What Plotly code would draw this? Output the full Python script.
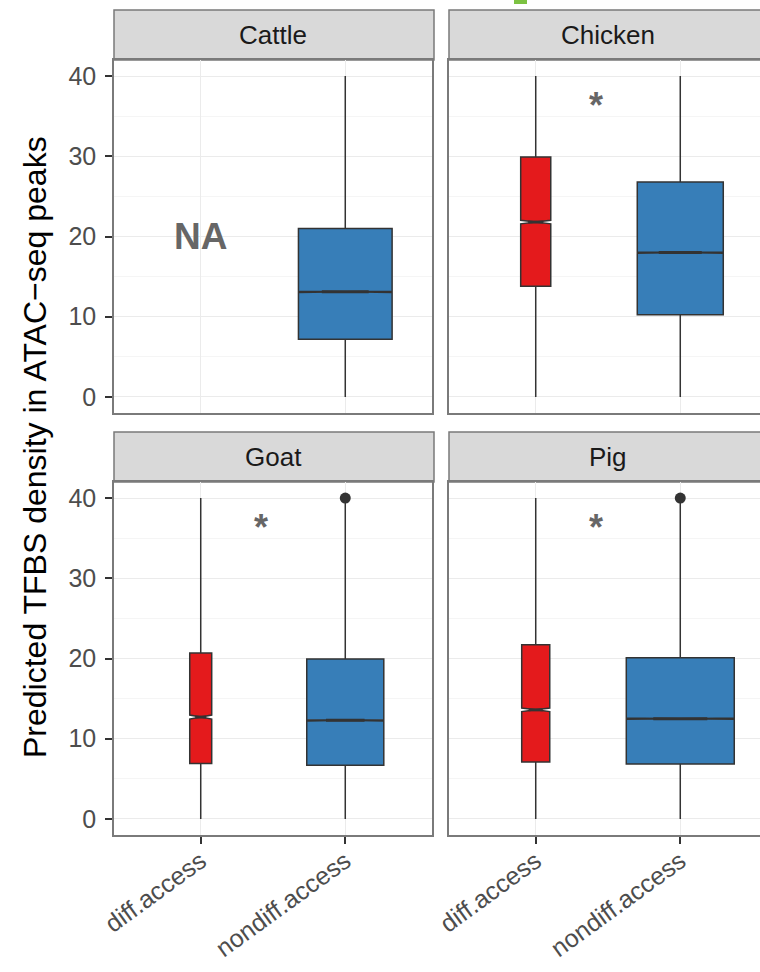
import plotly.graph_objects as go

# ---- data -------------------------------------------------------------
SPECIES = ["Cattle", "Chicken", "Goat", "Pig"]
GROUPS = ["diff.access", "nondiff.access"]

# one entry per drawn box (Cattle has no diff.access peaks -> NA)
BOX_SPECIES = ["Cattle", "Chicken", "Chicken", "Goat", "Goat", "Pig", "Pig"]
BOX_GROUP = ["nondiff.access", "diff.access", "nondiff.access",
             "diff.access", "nondiff.access", "diff.access", "nondiff.access"]
LOWER = [0, 0, 0, 0, 0, 0, 0]
Q1 = [7.2, 13.8, 10.25, 6.9, 6.7, 7.1, 6.85]
MEDIAN = [13.1, 21.8, 18.0, 12.7, 12.3, 13.6, 12.5]
Q3 = [21.0, 29.9, 26.8, 20.7, 19.95, 21.7, 20.1]
UPPER = [40, 40, 40, 40, 39.5, 40, 39.5]
NOTCH = [0.08, 0.22, 0.08, 0.25, 0.08, 0.22, 0.08]

OUTLIER_SPECIES = ["Goat", "Pig"]
OUTLIER_GROUP = ["nondiff.access", "nondiff.access"]
OUTLIER_VALUE = [40, 40]

MISSING_SPECIES = ["Cattle"]
MISSING_GROUP = ["diff.access"]

SIGNIF_SPECIES = ["Chicken", "Goat", "Pig"]

Y_TICKS = [0, 10, 20, 30, 40]
Y_TITLE = "Predicted TFBS density in ATAC\u2212seq peaks"

# ---- styling ----------------------------------------------------------
W, H = 760, 972
FILL = {"diff.access": "#E41A1C", "nondiff.access": "#377EB8"}
BOX_WIDTH = [0.648, 0.208, 0.595, 0.152, 0.533, 0.194, 0.747]  # varwidth
NOTCH_WIDTH = 0.5
FONT = "Liberation Sans, Arial, Helvetica, sans-serif"
BORDER = "#7a7a7a"
GRID = "#EBEBEB"
MINOR_GRID = "#F5F5F5"
EDGE = "#333333"

# panel geometry in pixels
COL_X = [(114, 432), (449, 767)]
ROW_Y = [(60, 413), (482, 835)]
STRIP_H = 50
X_RANGE = (0.4, 2.6)


def px_x(v):
    return v / W


def px_y(v):
    return 1 - v / H


panel_of = {s: i for i, s in enumerate(SPECIES)}
pos_of = {g: i + 1 for i, g in enumerate(GROUPS)}


def axes(i):
    suffix = "" if i == 0 else str(i + 1)
    return "x" + suffix, "y" + suffix


fig = go.Figure()

for sp, grp, lo, q1, med, q3, hi, notch, wd in zip(
        BOX_SPECIES, BOX_GROUP, LOWER, Q1, MEDIAN, Q3, UPPER, NOTCH, BOX_WIDTH):
    xa, ya = axes(panel_of[sp])
    pos = pos_of[grp]
    fig.add_trace(go.Box(
        x=[pos], lowerfence=[lo], q1=[q1], median=[med], q3=[q3],
        upperfence=[hi], notched=True, notchspan=[notch],
        notchwidth=NOTCH_WIDTH, width=wd, whiskerwidth=0, boxpoints=False,
        fillcolor=FILL[grp], line=dict(color=EDGE, width=1.5),
        xaxis=xa, yaxis=ya, showlegend=False, hoverinfo="skip"))
    # heavier median bar across the notch waist
    half = wd / 2 * (1 - NOTCH_WIDTH)
    fig.add_trace(go.Scatter(
        x=[pos - half, pos + half], y=[med, med], mode="lines",
        line=dict(color=EDGE, width=3),
        xaxis=xa, yaxis=ya, showlegend=False, hoverinfo="skip"))

for sp, grp, val in zip(OUTLIER_SPECIES, OUTLIER_GROUP, OUTLIER_VALUE):
    xa, ya = axes(panel_of[sp])
    fig.add_trace(go.Scatter(
        x=[pos_of[grp]], y=[val], mode="markers",
        marker=dict(size=11, color=EDGE),
        xaxis=xa, yaxis=ya, showlegend=False, hoverinfo="skip"))

layout = dict(
    width=W, height=H, margin=dict(l=0, r=0, t=0, b=0, autoexpand=False),
    paper_bgcolor="white", plot_bgcolor="white",
    font=dict(family=FONT, color="#4D4D4D"),
    boxmode="overlay",
)

annotations = []
shapes = []

for i, sp in enumerate(SPECIES):
    row, col = divmod(i, 2)
    x0, x1 = COL_X[col]
    y0, y1 = ROW_Y[row]
    suffix = "" if i == 0 else str(i + 1)
    px_per_unit = (x1 - x0) / (X_RANGE[1] - X_RANGE[0])
    x1_vis = min(x1, W)
    xr = (X_RANGE[0], X_RANGE[0] + (x1_vis - x0) / px_per_unit)
    bottom = row == 1
    left = col == 0
    layout["xaxis" + suffix] = dict(
        domain=[px_x(x0), px_x(x1_vis)], range=list(xr),
        anchor="y" + suffix, tickmode="array", tickvals=[1, 2],
        ticktext=GROUPS if bottom else ["", ""],
        showticklabels=bottom, ticks="outside" if bottom else "",
        ticklen=7, tickwidth=1.5, tickcolor=EDGE,
        tickangle=-36, ticklabelstandoff=-7,
        tickfont=dict(size=25, color="#4D4D4D"),
        showgrid=True, gridcolor=GRID, gridwidth=1.2, zeroline=False,
        showline=True, mirror=True, linecolor=BORDER, linewidth=1.5,
        automargin=False, fixedrange=True)
    layout["yaxis" + suffix] = dict(
        domain=[px_y(y1), px_y(y0)], range=[-2, 42],
        anchor="x" + suffix, tickmode="array", tickvals=Y_TICKS,
        showticklabels=left, ticks="outside" if left else "",
        ticklen=7, tickwidth=1.5, tickcolor=EDGE,
        ticklabelstandoff=4,
        tickfont=dict(size=25, color="#4D4D4D"),
        showgrid=True, gridcolor=GRID, gridwidth=1.2, zeroline=False,
        minor=dict(dtick=5, tick0=0, showgrid=True, gridcolor=MINOR_GRID,
                   gridwidth=1, ticks=""),
        showline=True, mirror=left, linecolor=BORDER, linewidth=1.5,
        automargin=False, fixedrange=True)

    # facet strip
    shapes.append(dict(
        type="rect", xref="paper", yref="paper",
        x0=px_x(x0), x1=px_x(x1 + 2), y0=px_y(y0), y1=px_y(y0 - STRIP_H),
        fillcolor="#D9D9D9", line=dict(color=BORDER, width=1.5), layer="below"))
    annotations.append(dict(
        text=sp, xref="paper", yref="paper",
        x=px_x((x0 + x1) / 2), y=px_y(y0 - STRIP_H / 2),
        xanchor="center", yanchor="middle", showarrow=False,
        font=dict(size=26, color="#1A1A1A", family=FONT)))

    if sp in SIGNIF_SPECIES:
        annotations.append(dict(
            text="<b>*</b>", xref="x" + suffix, yref="y" + suffix,
            x=1.42, y=36.3, xanchor="center", yanchor="middle",
            showarrow=False, font=dict(size=36, color="#666666", family=FONT)))

for sp, grp in zip(MISSING_SPECIES, MISSING_GROUP):
    suffix = "" if panel_of[sp] == 0 else str(panel_of[sp] + 1)
    annotations.append(dict(
        text="<b>NA</b>", xref="x" + suffix, yref="y" + suffix,
        x=pos_of[grp], y=20, xanchor="center", yanchor="middle",
        showarrow=False, font=dict(size=37, color="#666666", family=FONT)))

annotations.append(dict(
    text=Y_TITLE, xref="paper", yref="paper", x=px_x(35), y=px_y(447),
    xanchor="center", yanchor="middle", textangle=-90, showarrow=False,
    font=dict(size=32, color="#000000", family=FONT)))

# small green mark at the top edge
shapes.append(dict(type="rect", xref="paper", yref="paper",
                   x0=px_x(514), x1=px_x(527), y0=px_y(4), y1=1,
                   fillcolor="#7CC242", line=dict(width=0)))

layout["annotations"] = annotations
layout["shapes"] = shapes
fig.update_layout(**layout)

fig.write_html("out.html")
